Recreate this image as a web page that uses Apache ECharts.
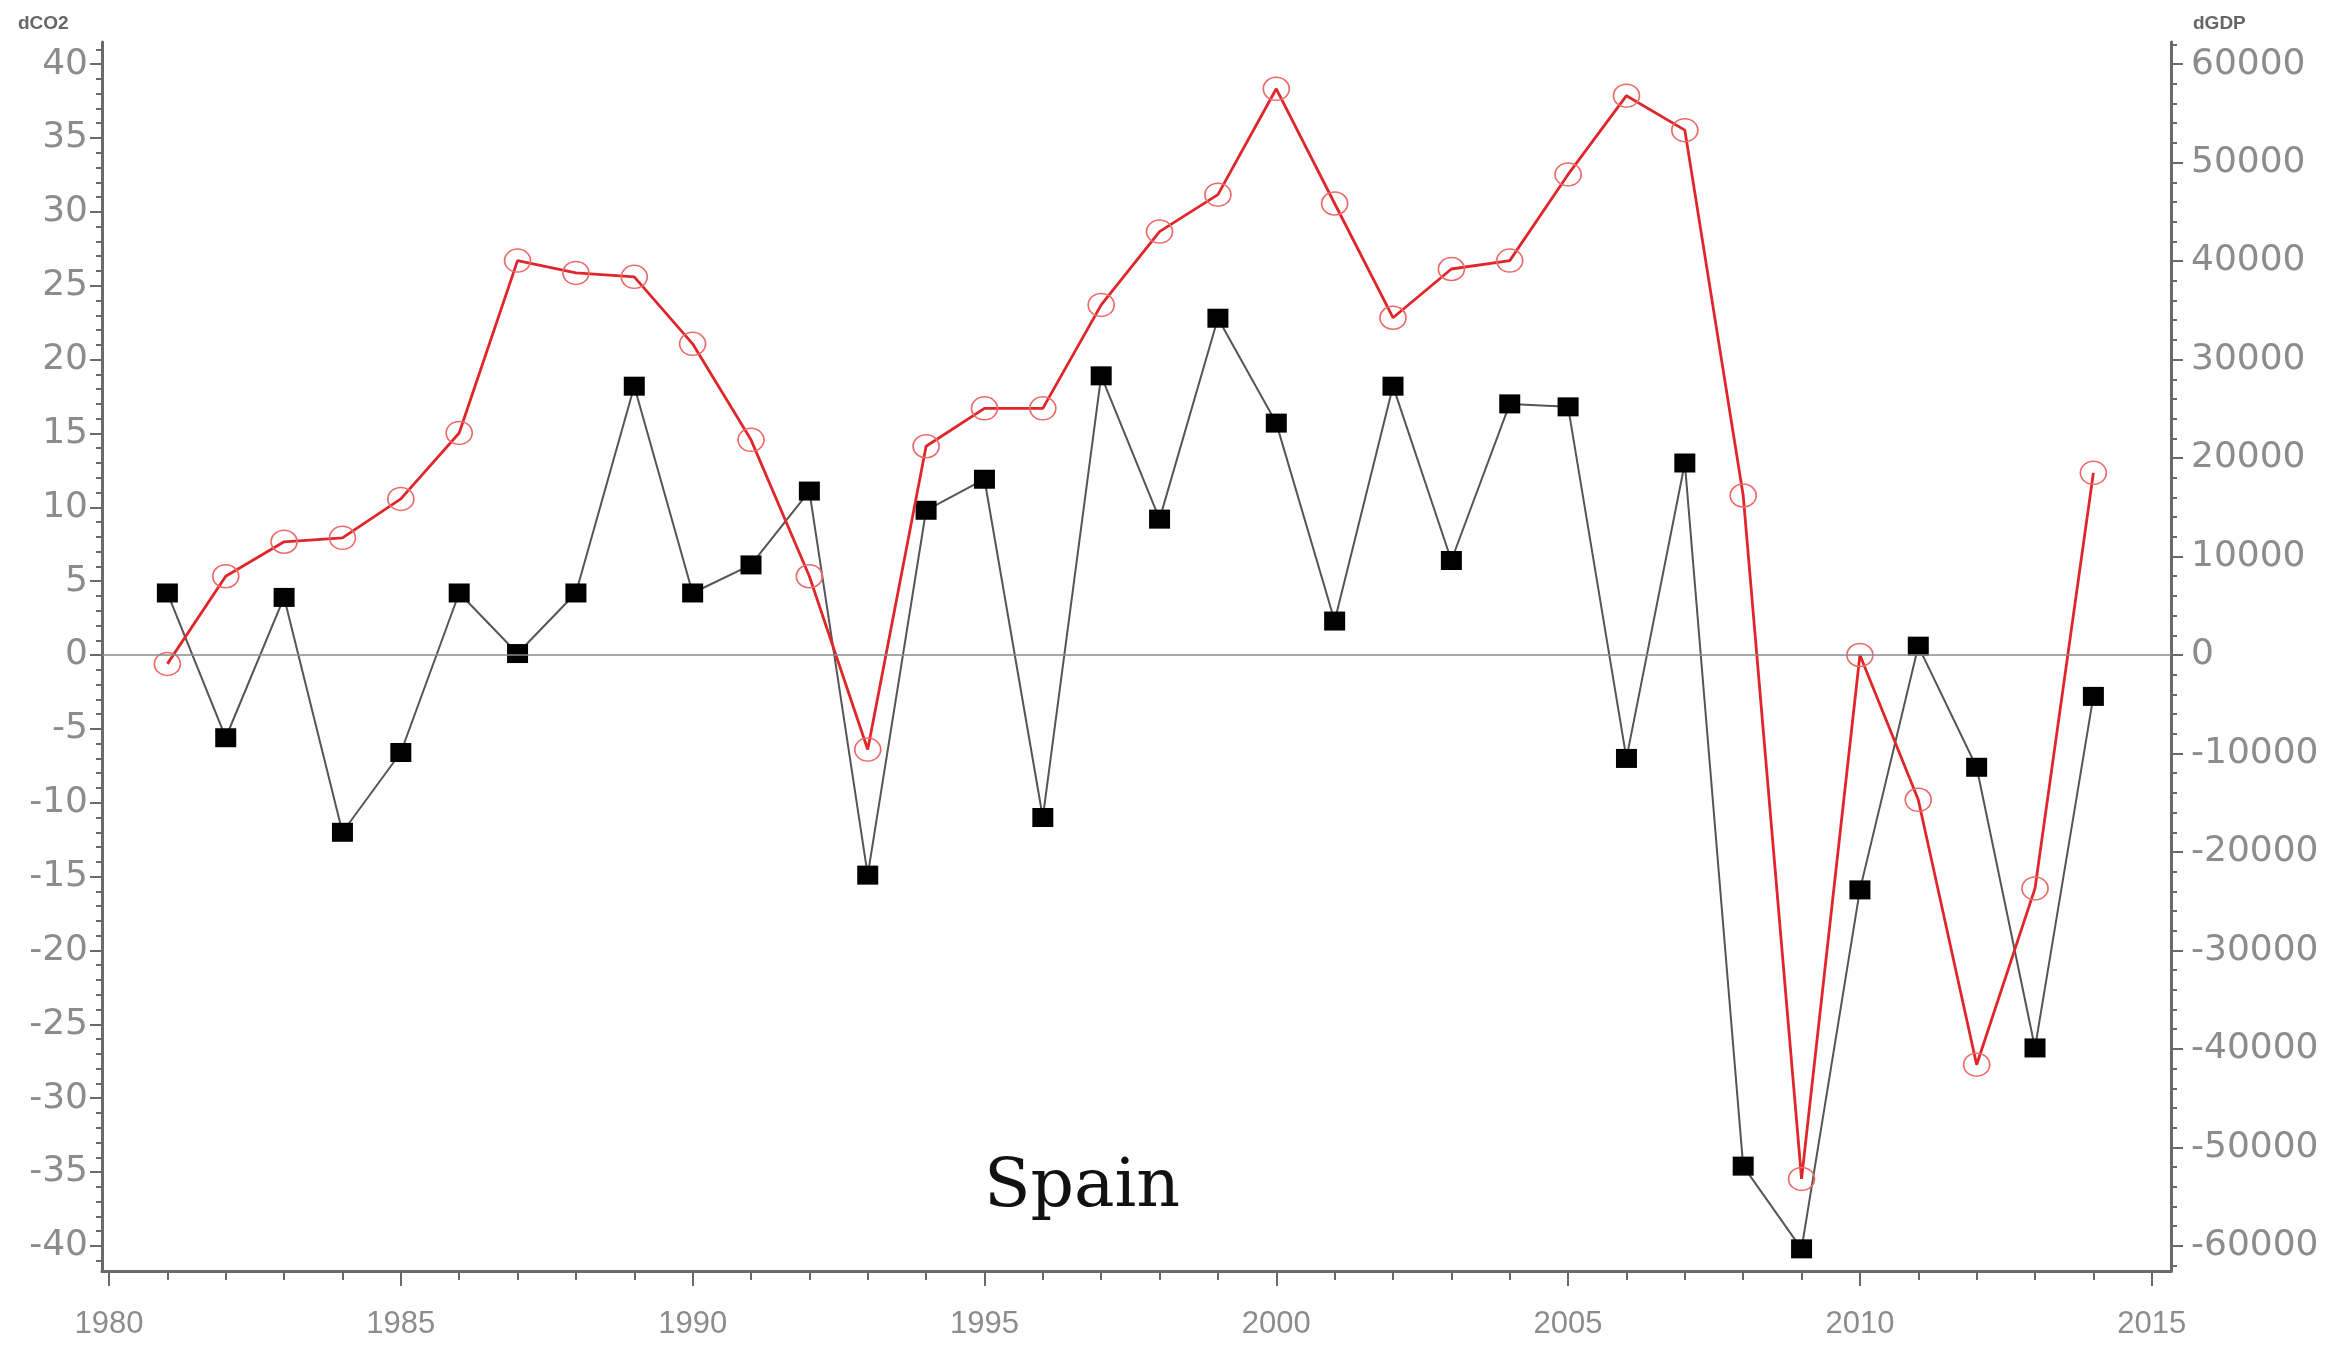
<!DOCTYPE html>
<html>
<head>
<meta charset="utf-8">
<script src="https://cdn.jsdelivr.net/npm/echarts@6/dist/echarts.min.js"></script>
<style>
html,body{margin:0;padding:0;background:#fff;}
#chart{width:2343px;height:1354px;}
</style>
</head>
<body>
<div id="chart"></div>
<script>
const years = [1981,1982,1983,1984,1985,1986,1987,1988,1989,1990,1991,1992,1993,1994,1995,1996,1997,1998,1999,2000,2001,2002,2003,2004,2005,2006,2007,2008,2009,2010,2011,2012,2013,2014];
const dCO2 = [4.2,-5.6,3.9,-12.0,-6.6,4.2,0.1,4.2,18.2,4.2,6.1,11.1,-14.9,9.8,11.9,-11.0,18.9,9.2,22.8,15.7,2.3,18.2,6.4,17.0,16.8,-7.0,13.0,-34.6,-40.2,-15.9,0.6,-7.6,-26.6,-2.8];
const dGDP = [-900,8000,11500,11900,15850,22550,40050,38800,38400,31600,21850,8000,-9600,21200,25050,25050,35550,43000,46750,57500,45850,34250,39200,40050,48800,56800,53300,16200,-53200,0,-14700,-41600,-23700,18500];
const xMajorTicks = [1980,1985,1990,1995,2000,2005,2010,2015];
const leftTicks = [-40,-35,-30,-25,-20,-15,-10,-5,0,5,10,15,20,25,30,35,40];
const rightTicks = [-60000,-50000,-40000,-30000,-20000,-10000,0,10000,20000,30000,40000,50000,60000];
const countryLabel = "Spain";

const xMinor = []; for (let y = 1980; y <= 2015; y++) xMinor.push(y);
const leftMinor = []; for (let v = -41; v <= 41; v++) leftMinor.push(v);
const rightMinor = []; for (let v = -62000; v <= 62000; v += 2000) rightMinor.push(v);

const co2Data = years.map((y, i) => [y, dCO2[i]]);
const gdpData = years.map((y, i) => [y, dGDP[i]]);

const axisCol = '#6a6a6a';
const labCol = '#8c8c8c';
const XMIN = 1979.88, XMAX = 2015.33;
const LMIN = -41.7, LMAX = 41.5;
const RMIN = LMIN * 1500, RMAX = LMAX * 1500;

const chart = echarts.init(document.getElementById('chart'));
chart.setOption({
  backgroundColor: '#ffffff',
  animation: false,
  grid: { left: 102, right: 172, top: 42, bottom: 83, containLabel: false },
  xAxis: [
    { type: 'value', min: XMIN, max: XMAX, position: 'bottom',
      axisLine: { show: true, onZero: false, lineStyle: { color: axisCol, width: 3 } },
      axisTick: { show: true, customValues: xMajorTicks, length: 15, lineStyle: { color: axisCol, width: 2 } },
      axisLabel: { show: true, customValues: xMajorTicks, color: labCol, fontFamily: 'Liberation Sans', fontSize: 31, margin: 38, formatter: v => String(v) },
      splitLine: { show: false } },
    { type: 'value', min: XMIN, max: XMAX, position: 'bottom',
      axisLine: { show: false, onZero: false },
      axisTick: { show: true, customValues: xMinor, length: 9, lineStyle: { color: axisCol, width: 2 } },
      axisLabel: { show: false },
      splitLine: { show: false } }
  ],
  yAxis: [
    { type: 'value', min: LMIN, max: LMAX, position: 'left',
      axisLine: { show: true, onZero: false, lineStyle: { color: axisCol, width: 3 } },
      axisTick: { show: true, customValues: leftTicks, length: 12, lineStyle: { color: axisCol, width: 2 } },
      axisLabel: { show: true, customValues: leftTicks, color: labCol, fontFamily: 'DejaVu Sans', fontSize: 36, margin: 14, formatter: v => String(v) },
      splitLine: { show: false } },
    { type: 'value', min: RMIN, max: RMAX, position: 'right',
      axisLine: { show: true, onZero: false, lineStyle: { color: axisCol, width: 3 } },
      axisTick: { show: true, customValues: rightTicks, length: 12, lineStyle: { color: axisCol, width: 2 } },
      axisLabel: { show: true, customValues: rightTicks, color: labCol, fontFamily: 'DejaVu Sans', fontSize: 36, margin: 20, formatter: v => String(v) },
      splitLine: { show: false } },
    { type: 'value', min: LMIN, max: LMAX, position: 'left',
      axisLine: { show: false, onZero: false },
      axisTick: { show: true, customValues: leftMinor, length: 6, lineStyle: { color: axisCol, width: 2 } },
      axisLabel: { show: false }, splitLine: { show: false } },
    { type: 'value', min: RMIN, max: RMAX, position: 'right',
      axisLine: { show: false, onZero: false },
      axisTick: { show: true, customValues: rightMinor, length: 6, lineStyle: { color: axisCol, width: 2 } },
      axisLabel: { show: false }, splitLine: { show: false } }
  ],
  series: [
    { name: 'dCO2', type: 'line', xAxisIndex: 0, yAxisIndex: 0, data: co2Data,
      symbol: 'rect', symbolSize: [21, 19], showAllSymbol: true,
      lineStyle: { color: '#555555', width: 2 },
      itemStyle: { color: '#000000', borderWidth: 0 },
      markLine: { silent: true, symbol: ['none', 'none'], label: { show: false },
        lineStyle: { color: '#8a8a8a', width: 1.5, type: 'solid' },
        data: [{ yAxis: 0 }] },
      z: 3 },
    { name: 'dGDP', type: 'line', xAxisIndex: 0, yAxisIndex: 1, data: gdpData,
      symbol: 'circle', symbolSize: [26, 23], showAllSymbol: true,
      lineStyle: { color: '#e0262b', width: 2.8 },
      itemStyle: { color: 'rgba(255,255,255,0)', borderColor: '#ec6a6a', borderWidth: 1.6 },
      z: 4 }
  ],
  graphic: [
    { type: 'text', left: 18, top: 14, style: { text: 'dCO2', fill: '#666', font: 'bold 19px "Liberation Sans"' } },
    { type: 'text', left: 2193, top: 14, style: { text: 'dGDP', fill: '#666', font: 'bold 19px "Liberation Sans"' } },
    { type: 'text', x: 1082, y: 1222, style: { text: countryLabel, fill: '#111', font: '68px "DejaVu Serif"', textAlign: 'center', textVerticalAlign: 'bottom' } }
  ]
});
</script>
</body>
</html>
